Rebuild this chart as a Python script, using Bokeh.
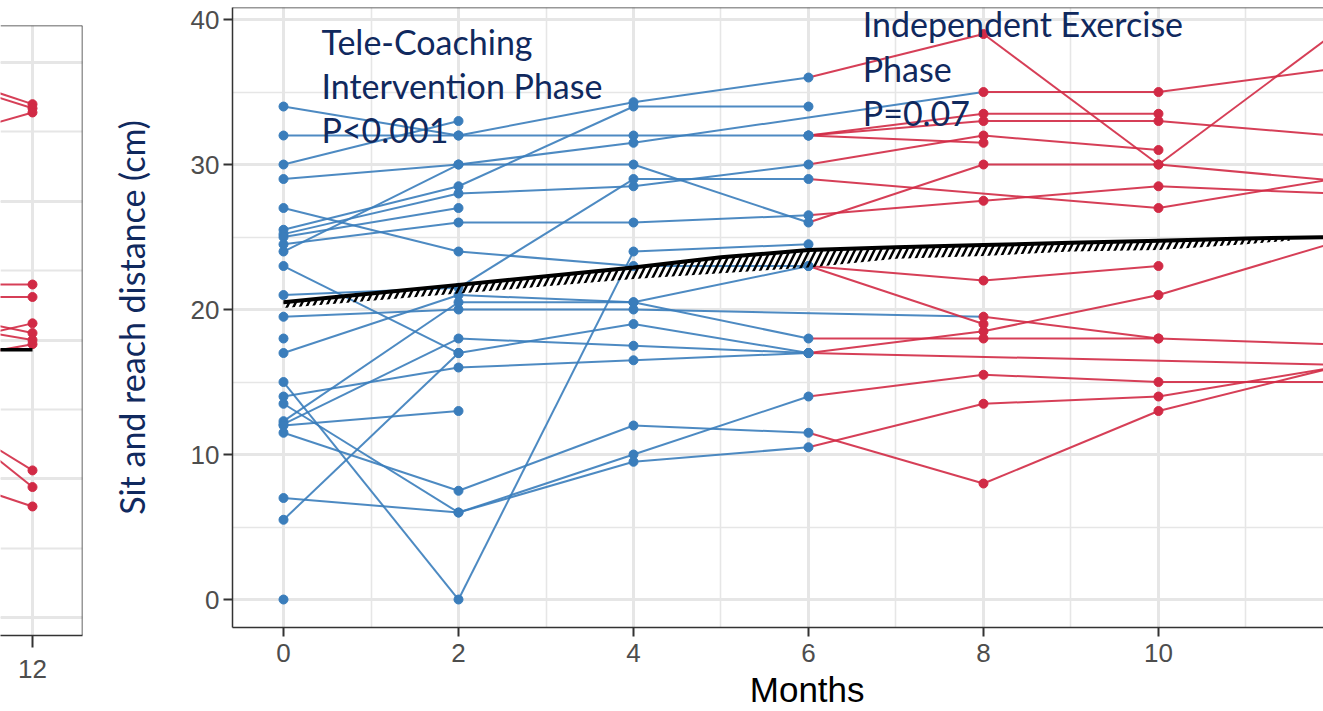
from bokeh.plotting import figure
from bokeh.models import Range1d, SingleIntervalTicker, FixedTicker, Span, Label, Grid
from bokeh.layouts import row
from bokeh.embed import file_html
from bokeh.resources import INLINE

N = None
months = [0, 2, 4, 6, 8, 10, 12]

# individual trajectories (cm) at months 0,2,4,6,8,10,12
s_a = [34, 32, 34.3, 36, 39, 30, 28.9]
s_b = [32, 32, 32, 32, 33.5, 33.5, N]
s_c = [30, 33, N, N, N, N, N]
s_d = [29, 30, 31.5, N, 35, 35, 36.6]
s_e = [27, 24, 23, 23, 19, N, N]
s_f = [25.5, 28.5, 34, 34, N, N, N]
s_g = [25.2, 28, 28.5, 30, 32, 31, N]
s_h = [25, 27, N, N, N, N, N]
s_i = [24.5, 26, 26, 26.5, 27.5, 28.5, 28]
s_j = [24, 30, 30, 26, 30, 30, 39]
s_k = [23, 17, 19, 17, 18.5, 21, 24.6]
s_m = [21, 21.5, 29, 29, N, 27, 29]
s_n = [19.5, 20, 20, N, 19.5, 18, 17.6]
s_o = [18, N, N, N, N, N, N]
s_p = [17, 21, 20.5, 23, 22, 23, N]
s_q = [15, 0, 24, 24.5, N, N, N]
s_r = [14, 16, 16.5, 17, N, N, 16.2]
s_s = [13.5, 6, 10, 14, 15.5, 15, 15]
s_t = [12.3, 20.5, 20.5, 18, 18, 18, N]
s_u = [12.1, 18, 17.5, 17, N, N, N]
s_v = [12, 13, N, N, N, N, N]
s_w = [11.5, 7.5, 12, 11.5, 8, 13, 16]
s_x = [7, 6, 9.5, 10.5, 13.5, 14, 16]
s_y = [5.5, 17, N, N, N, N, N]
s_z = [0, N, N, N, N, N, N]
s_aa = [N, N, N, 32, 33, 33, 32]
s_ab = [N, N, N, 32, 31.5, N, N]
subjects = [s_a, s_b, s_c, s_d, s_e, s_f, s_g, s_h, s_i, s_j, s_k, s_m, s_n,
            s_o, s_p, s_q, s_r, s_s, s_t, s_u, s_v, s_w, s_x, s_y, s_z, s_aa, s_ab]

# group mean curve and its (hatched) lower band
mean_months = [0, 1, 2, 3, 4, 5, 6, 7, 8, 9, 10, 11, 11.5, 12]
mean_values = [20.5, 21.1, 21.7, 22.3, 22.9, 23.6, 24.1, 24.3, 24.45, 24.6, 24.75, 24.9, 24.95, 25.0]
band_months = [0, 1, 2, 3, 4, 5, 6, 7, 8, 9, 10, 11, 11.5]
band_lower = [20.1, 20.6, 21.1, 21.6, 22.1, 22.5, 22.9, 23.5, 23.7, 24.0, 24.1, 24.5, 24.75]

# left (previous) panel: values at months 10 and 12
left_months = [10, 12]
left_v10 = [41.0, 40.5, 33.0, 24.0, 23.1, 18.5, 23.0, 22.0, 17.5, 18.0, 19.0, 12.0]
left_v12 = [37.0, 36.7, 36.4, 24.0, 23.1, 21.2, 20.5, 20.0, 19.7, 10.6, 9.4, 8.0]
left_mean = [19.3, 19.3]

x_ticks = [0, 2, 4, 6, 8, 10, 12]

BLUE = "#3a7dbb"
RED = "#d12a45"
NAVY = "#10295e"
GRID = "#e6e6e6"
FRAME = "#333333"
TICKFONT = "Liberation Sans"

# ---------- segments ----------
bx, by, rx, ry = [], [], [], []
px_b, py_b, px_r, py_r = [], [], [], []
for s in subjects:
    pts = [(m, v) for m, v in zip(months, s) if v is not None]
    for (m0, v0), (m1, v1) in zip(pts[:-1], pts[1:]):
        if m0 < 6:
            bx.append([m0, m1]); by.append([v0, v1])
        else:
            rx.append([m0, m1]); ry.append([v0, v1])
    for m, v in pts:
        if m <= 6:
            px_b.append(m); py_b.append(v)
        else:
            px_r.append(m); py_r.append(v)


def style_axis(ax):
    ax.axis_line_color = FRAME
    ax.axis_line_width = 1.5
    ax.major_tick_line_color = FRAME
    ax.major_tick_line_width = 2
    ax.major_tick_out = 9
    ax.major_tick_in = 0
    ax.minor_tick_line_color = None
    ax.major_label_text_font = TICKFONT
    ax.major_label_text_font_size = "26px"
    ax.major_label_text_color = "#4d4d4d"
    ax.major_label_standoff = 4


def style_grid(g):
    g.grid_line_color = GRID
    g.grid_line_width = 3
    g.minor_grid_line_color = GRID
    g.minor_grid_line_width = 1.6


# ---------- left panel ----------
L_TOP = 42.67
p1 = figure(width=98, height=711, x_range=Range1d(11.616, 12.6), y_range=Range1d(-1.3, L_TOP),
            min_border_left=0, min_border_right=16, min_border_top=25, min_border_bottom=76,
            y_axis_location=None, output_backend="svg", toolbar_location=None)
p1.frame_align = False
p1.outline_line_color = None
p1.xaxis.ticker = FixedTicker(ticks=x_ticks, minor_ticks=[1, 3, 5, 7, 9, 11])
style_axis(p1.xaxis)
p1.xaxis.major_tick_out = 12
p1.xaxis.major_label_standoff = 12
style_grid(p1.xgrid)
p1.add_layout(Grid(dimension=1, ticker=SingleIntervalTicker(interval=10, num_minor_ticks=2),
                   grid_line_color=GRID, grid_line_width=3,
                   minor_grid_line_color=GRID, minor_grid_line_width=2))
p1.multi_line([left_months] * len(left_v12), [[a, b] for a, b in zip(left_v10, left_v12)],
              line_color=RED, line_width=2, line_alpha=0.9)
p1.scatter([12] * len(left_v12), left_v12, size=9, color=RED)
p1.line(left_months, left_mean, line_color="black", line_width=3.5)
p1.add_layout(Span(location=12.6, dimension="height", line_color=FRAME, line_width=1.5))
p1.add_layout(Span(location=L_TOP, dimension="width", line_color=FRAME, line_width=1.5))

# ---------- main panel ----------
M_TOP = 40.83
p = figure(width=1225, height=711, x_range=Range1d(-0.583, 11.886), y_range=Range1d(-1.93, M_TOP),
           min_border_left=134, min_border_right=0, min_border_top=7, min_border_bottom=84,
           output_backend="svg", toolbar_location=None)
p.frame_align = False
p.outline_line_color = None
p.xaxis.ticker = SingleIntervalTicker(interval=2, num_minor_ticks=2)
p.yaxis.ticker = SingleIntervalTicker(interval=10, num_minor_ticks=2)
style_axis(p.xaxis)
style_axis(p.yaxis)
p.xaxis.major_label_standoff = 7
p.xaxis.axis_label = "\u00a0\u00a0\u00a0\u00a0\u00a0\u00a0Months"
p.xaxis.axis_label_text_font = TICKFONT
p.xaxis.axis_label_text_font_style = "normal"
p.xaxis.axis_label_text_font_size = "35px"
p.xaxis.axis_label_text_color = "black"
p.xaxis.axis_label_standoff = 5
style_grid(p.xgrid)
style_grid(p.ygrid)
p.yaxis.axis_label = "Sit and reach distance (cm)"
p.yaxis.axis_label_text_font = "Lato"
p.yaxis.axis_label_text_font_style = "normal"
p.yaxis.axis_label_text_font_size = "34px"
p.yaxis.axis_label_text_color = NAVY
p.yaxis.axis_label_standoff = 36

p.multi_line(bx, by, line_color=BLUE, line_width=2, line_alpha=0.9)
p.multi_line(rx, ry, line_color=RED, line_width=2, line_alpha=0.9)
p.scatter(px_b, py_b, size=9, color=BLUE)
p.scatter(px_r, py_r, size=9, color=RED)

p.varea(x=band_months, y1=band_lower, y2=mean_values[:len(band_months)], fill_alpha=0,
        hatch_pattern="/", hatch_color="black", hatch_weight=2.5, hatch_scale=13)
p.line(mean_months, mean_values, line_color="black", line_width=4)

p.add_layout(Span(location=M_TOP, dimension="width", line_color=FRAME, line_width=1.5))

label_font = "Lato"
for txt, yv in [("Tele-Coaching", 38.5), ("Intervention Phase", 35.45), ("P<0.001", 32.4)]:
    p.add_layout(Label(x=0.434, y=yv, text=txt, text_font=label_font, text_font_size="34px",
                       text_color=NAVY, text_baseline="middle"))
for txt, yv in [("Independent Exercise", 39.7), ("Phase", 36.65), ("P=0.07", 33.6)]:
    p.add_layout(Label(x=6.62, y=yv, text=txt, text_font=label_font, text_font_size="34px",
                       text_color=NAVY, text_baseline="middle"))

layout = row(p1, p, spacing=0)
open("out.html", "w").write(file_html(layout, INLINE))
